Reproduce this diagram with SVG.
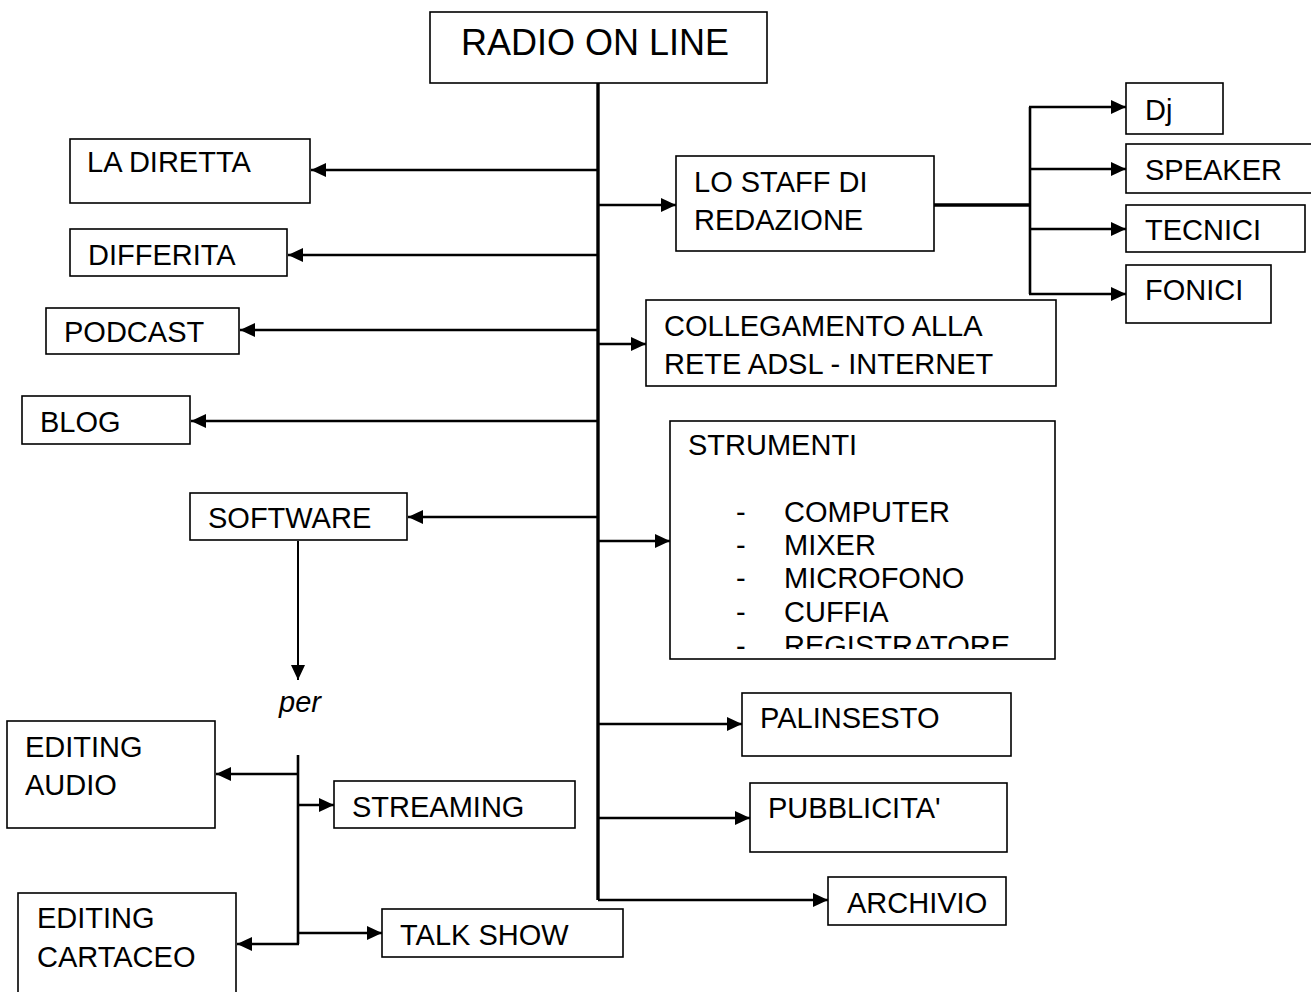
<svg xmlns="http://www.w3.org/2000/svg" width="1311" height="992" viewBox="0 0 1311 992">
<style>
.box{fill:#fff;stroke:#000;stroke-width:1.6}
.t{font-family:"Liberation Sans",Arial,sans-serif;font-size:29px;fill:#000}
.title{font-size:36px}
.c{fill:none;stroke:#000;stroke-width:2.6}
.trunk{fill:none;stroke:#000;stroke-width:3.4}
.a{fill:none;stroke:#000;stroke-width:2.6;marker-end:url(#ah)}
.thin{stroke-width:2}
</style>
<defs>
<marker id="ah" markerUnits="userSpaceOnUse" markerWidth="16" markerHeight="14" refX="15" refY="7" orient="auto">
<path d="M0,0 L15,7 L0,14 Z" fill="#000"/>
</marker>
<clipPath id="clipS"><rect x="670" y="420" width="386" height="229"/></clipPath>
</defs>

<g id="connectors">
<line class="trunk" x1="598" y1="83" x2="598" y2="900"/>
<line class="a" x1="598" y1="170" x2="311" y2="170"/>
<line class="a" x1="598" y1="205" x2="676" y2="205"/>
<line class="a" x1="598" y1="255" x2="288" y2="255"/>
<line class="a" x1="598" y1="330" x2="240" y2="330"/>
<line class="a" x1="598" y1="344" x2="646" y2="344"/>
<line class="a" x1="598" y1="421" x2="191" y2="421"/>
<line class="a" x1="598" y1="517" x2="408" y2="517"/>
<line class="a" x1="598" y1="541" x2="670" y2="541"/>
<line class="a" x1="598" y1="724" x2="742" y2="724"/>
<line class="a" x1="598" y1="818" x2="750" y2="818"/>
<path class="a" d="M598,900 L828,900"/>
<line class="trunk" x1="934" y1="205" x2="1030" y2="205"/>
<line class="c" x1="1030" y1="107" x2="1030" y2="294"/>
<line class="a" x1="1029" y1="107" x2="1126" y2="107"/>
<line class="a" x1="1030" y1="169" x2="1126" y2="169"/>
<line class="a" x1="1030" y1="229" x2="1126" y2="229"/>
<line class="a" x1="1029" y1="294" x2="1126" y2="294"/>
<line class="a thin" x1="298" y1="541" x2="298" y2="680"/>
<line class="c" x1="298" y1="755" x2="298" y2="944"/>
<line class="a" x1="298" y1="774" x2="216" y2="774"/>
<line class="a" x1="298" y1="805" x2="334" y2="805"/>
<line class="a" x1="298" y1="933" x2="382" y2="933"/>
<path class="a" d="M299,944 L237,944"/>
</g>

<g id="n-radio"><rect class="box" x="430" y="12" width="337" height="71"/><text class="t title" x="461" y="55">RADIO ON LINE</text></g>
<g id="n-diretta"><rect class="box" x="70" y="139" width="240" height="64"/><text class="t" x="87" y="172">LA DIRETTA</text></g>
<g id="n-staff"><rect class="box" x="676" y="156" width="258" height="95"/><text class="t" x="694" y="192">LO STAFF DI</text><text class="t" x="694" y="230">REDAZIONE</text></g>
<g id="n-dj"><rect class="box" x="1126" y="83" width="97" height="51"/><text class="t" x="1145" y="120">Dj</text></g>
<g id="n-speaker"><rect class="box" x="1126" y="144" width="200" height="49"/><text class="t" x="1145" y="180">SPEAKER</text></g>
<g id="n-tecnici"><rect class="box" x="1126" y="205" width="179" height="47"/><text class="t" x="1145" y="240">TECNICI</text></g>
<g id="n-fonici"><rect class="box" x="1126" y="265" width="145" height="58"/><text class="t" x="1145" y="300">FONICI</text></g>
<g id="n-differita"><rect class="box" x="70" y="229" width="217" height="47"/><text class="t" x="88" y="265">DIFFERITA</text></g>
<g id="n-podcast"><rect class="box" x="46" y="308" width="193" height="46"/><text class="t" x="64" y="342">PODCAST</text></g>
<g id="n-collegamento"><rect class="box" x="646" y="300" width="410" height="86"/><text class="t" x="664" y="336">COLLEGAMENTO ALLA</text><text class="t" x="664" y="374">RETE ADSL - INTERNET</text></g>
<g id="n-blog"><rect class="box" x="22" y="396" width="168" height="48"/><text class="t" x="40" y="432">BLOG</text></g>
<g id="n-strumenti"><rect class="box" x="670" y="421" width="385" height="238"/>
<g clip-path="url(#clipS)">
<text class="t" x="688" y="455">STRUMENTI</text>
<text class="t" x="736" y="522">-</text><text class="t" x="784" y="522">COMPUTER</text>
<text class="t" x="736" y="555">-</text><text class="t" x="784" y="555">MIXER</text>
<text class="t" x="736" y="588">-</text><text class="t" x="784" y="588">MICROFONO</text>
<text class="t" x="736" y="622">-</text><text class="t" x="784" y="622">CUFFIA</text>
<text class="t" x="736" y="656">-</text><text class="t" x="784" y="656">REGISTRATORE</text>
</g></g>
<g id="n-software"><rect class="box" x="190" y="493" width="217" height="47"/><text class="t" x="208" y="528">SOFTWARE</text></g>
<g id="n-per"><text class="t" x="279" y="712" font-style="italic" font-size="26">per</text></g>
<g id="n-editaudio"><rect class="box" x="7" y="721" width="208" height="107"/><text class="t" x="25" y="757">EDITING</text><text class="t" x="25" y="795">AUDIO</text></g>
<g id="n-streaming"><rect class="box" x="334" y="781" width="241" height="47"/><text class="t" x="352" y="817">STREAMING</text></g>
<g id="n-editcart"><rect class="box" x="18" y="893" width="218" height="110"/><text class="t" x="37" y="928">EDITING</text><text class="t" x="37" y="967">CARTACEO</text></g>
<g id="n-talkshow"><rect class="box" x="382" y="909" width="241" height="48"/><text class="t" x="400" y="945">TALK SHOW</text></g>
<g id="n-palinsesto"><rect class="box" x="742" y="693" width="269" height="63"/><text class="t" x="760" y="728">PALINSESTO</text></g>
<g id="n-pubblicita"><rect class="box" x="750" y="783" width="257" height="69"/><text class="t" x="768" y="818">PUBBLICITA'</text></g>
<g id="n-archivio"><rect class="box" x="828" y="877" width="178" height="48"/><text class="t" x="847" y="913">ARCHIVIO</text></g>
</svg>
